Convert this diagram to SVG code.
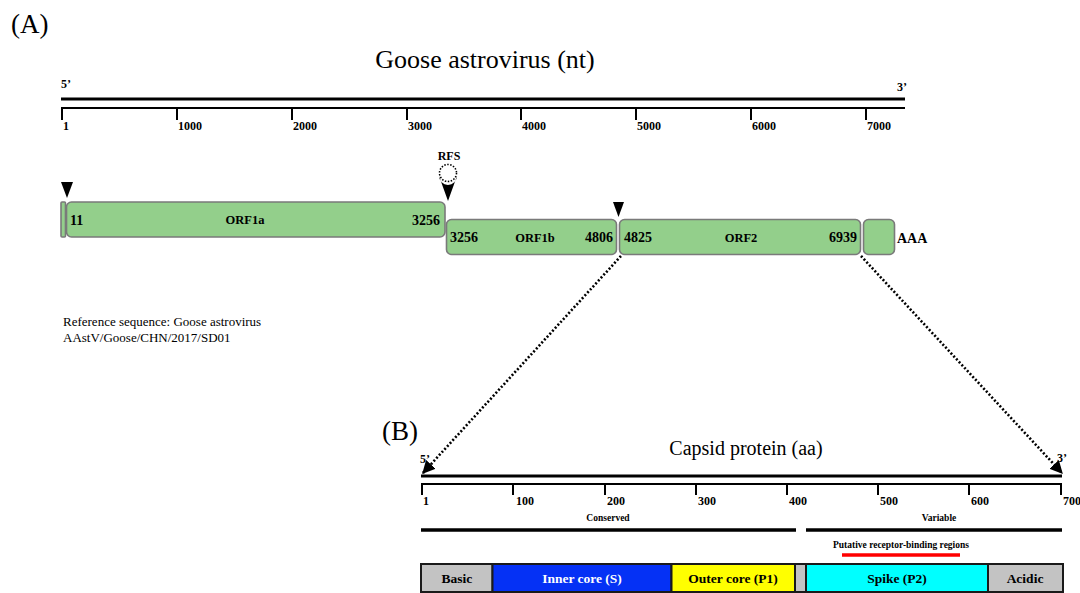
<svg xmlns="http://www.w3.org/2000/svg" width="1080" height="593" viewBox="0 0 1080 593">
<defs>
<style>
.serif{font-family:"Liberation Serif","Times New Roman",serif;fill:#000}
.b{font-weight:bold}
.tick{font-family:"Liberation Serif",serif;font-weight:bold;font-size:12px}
.orf{fill:#93cf8b;stroke:#7a7a7a;stroke-width:1.6}
.axis{stroke:#000;fill:none}
.seg{stroke:#1a1a1a;stroke-width:2}
.lbl{font-family:"Liberation Serif",serif;font-weight:bold;font-size:13.5px;text-anchor:middle}
.dots{stroke:#000;stroke-width:2.6;stroke-dasharray:2 2;fill:none}
</style>
<marker id="ah" viewBox="0 0 10 10" refX="9" refY="5" markerWidth="5" markerHeight="5" orient="auto" markerUnits="strokeWidth">
<path d="M0,0 L10,5 L0,10 Z" fill="#000"/>
</marker>
</defs>
<rect width="1080" height="593" fill="#fff"/>

<g id="panelA-label"><text class="serif" x="11" y="33" font-size="27">(A)</text></g>
<g id="titleA"><text class="serif" x="485" y="68" font-size="26" text-anchor="middle">Goose astrovirus (nt)</text></g>

<g id="axisA">
<text class="tick" x="61" y="88">5’</text>
<text class="tick" x="897" y="91">3’</text>
<line class="axis" x1="61" y1="99" x2="905" y2="99" stroke-width="3"/>
<line class="axis" x1="61" y1="108" x2="905" y2="108" stroke-width="2"/>
<g stroke="#000" stroke-width="2">
<line x1="62" y1="108" x2="62" y2="120"/>
<line x1="177" y1="108" x2="177" y2="120"/>
<line x1="292" y1="108" x2="292" y2="120"/>
<line x1="407" y1="108" x2="407" y2="120"/>
<line x1="521" y1="108" x2="521" y2="120"/>
<line x1="636" y1="108" x2="636" y2="120"/>
<line x1="751" y1="108" x2="751" y2="120"/>
<line x1="866" y1="108" x2="866" y2="120"/>
</g>
<text class="tick" x="63" y="130">1</text>
<text class="tick" x="178" y="130">1000</text>
<text class="tick" x="293" y="130">2000</text>
<text class="tick" x="408" y="130">3000</text>
<text class="tick" x="522" y="130">4000</text>
<text class="tick" x="637" y="130">5000</text>
<text class="tick" x="752" y="130">6000</text>
<text class="tick" x="867" y="130">7000</text>
</g>

<g id="marker-start"><path d="M61,182 L73,182 L67,198 Z" fill="#000"/></g>
<g id="rfs">
<text class="serif b" x="449" y="160" font-size="12" text-anchor="middle">RFS</text>
<circle cx="448" cy="173" r="8.5" fill="#fff" stroke="#000" stroke-width="1.6" stroke-dasharray="1.5 1.5"/>
<path d="M439,176 A9,9 0 0 0 457,176 L448,201 Z" fill="#000"/>
</g>
<g id="marker-orf2"><path d="M613,202 L624,202 L618.5,217 Z" fill="#000"/></g>

<g id="orf0"><rect class="orf" x="61" y="202" width="4.5" height="35" rx="1"/></g>
<g id="orf1a">
<rect class="orf" x="66.5" y="202" width="378.5" height="35" rx="5"/>
<text class="serif b" x="70" y="225" font-size="14">11</text>
<text class="serif b" x="245" y="224" font-size="12.5" text-anchor="middle">ORF1a</text>
<text class="serif b" x="440" y="225" font-size="14" text-anchor="end">3256</text>
</g>
<g id="orf1b">
<rect class="orf" x="446.5" y="219.5" width="170" height="35" rx="5"/>
<text class="serif b" x="450" y="242" font-size="14">3256</text>
<text class="serif b" x="535" y="242" font-size="12.5" text-anchor="middle">ORF1b</text>
<text class="serif b" x="613" y="242" font-size="14" text-anchor="end">4806</text>
</g>
<g id="orf2">
<rect class="orf" x="619.5" y="219.5" width="241" height="35" rx="5"/>
<text class="serif b" x="624" y="242" font-size="14">4825</text>
<text class="serif b" x="741" y="242" font-size="12.5" text-anchor="middle">ORF2</text>
<text class="serif b" x="857" y="242" font-size="14" text-anchor="end">6939</text>
</g>
<g id="polyA">
<rect class="orf" x="863.5" y="219.5" width="31" height="35" rx="5"/>
<text class="serif b" x="897" y="243" font-size="14">AAA</text>
</g>

<g id="reference">
<text class="serif" x="63" y="326" font-size="13">Reference sequence: Goose astrovirus</text>
<text class="serif" x="63" y="342" font-size="13">AAstV/Goose/CHN/2017/SD01</text>
</g>

<g id="connectors">
<line class="dots" x1="621" y1="256" x2="423" y2="473" marker-end="url(#ah)"/>
<line class="dots" x1="861" y1="256" x2="1062" y2="473" marker-end="url(#ah)"/>
</g>

<g id="panelB-label"><text class="serif" x="382" y="440" font-size="27">(B)</text></g>
<g id="titleB"><text class="serif" x="746" y="455" font-size="20" text-anchor="middle">Capsid protein (aa)</text></g>

<g id="axisB">
<text class="tick" x="420" y="463">5’</text>
<text class="tick" x="1057" y="462">3’</text>
<line class="axis" x1="421" y1="476" x2="1062" y2="476" stroke-width="3"/>
<line class="axis" x1="421" y1="484" x2="1062" y2="484" stroke-width="2"/>
<g stroke="#000" stroke-width="2">
<line x1="422" y1="484" x2="422" y2="495"/>
<line x1="513" y1="484" x2="513" y2="495"/>
<line x1="605" y1="484" x2="605" y2="495"/>
<line x1="696" y1="484" x2="696" y2="495"/>
<line x1="787" y1="484" x2="787" y2="495"/>
<line x1="878" y1="484" x2="878" y2="495"/>
<line x1="969" y1="484" x2="969" y2="495"/>
<line x1="1061" y1="484" x2="1061" y2="495"/>
</g>
<text class="tick" x="423" y="505">1</text>
<text class="tick" x="516" y="505">100</text>
<text class="tick" x="607" y="505">200</text>
<text class="tick" x="698" y="505">300</text>
<text class="tick" x="789" y="505">400</text>
<text class="tick" x="880" y="505">500</text>
<text class="tick" x="971" y="505">600</text>
<text class="tick" x="1063" y="505">700</text>
</g>

<g id="regions">
<text class="serif b" x="608" y="521" font-size="9.5" text-anchor="middle">Conserved</text>
<line x1="421" y1="530" x2="796" y2="530" stroke="#000" stroke-width="3.5"/>
<text class="serif b" x="939" y="521" font-size="9.5" text-anchor="middle">Variable</text>
<line x1="806" y1="530" x2="1062" y2="530" stroke="#000" stroke-width="3.5"/>
<text class="serif b" x="901" y="548" font-size="9.5" text-anchor="middle">Putative receptor-binding regions</text>
<line x1="842" y1="555" x2="960" y2="555" stroke="#ff0000" stroke-width="3.5"/>
</g>

<g id="domains">
<g id="basic"><rect class="seg" x="421" y="564" width="71.5" height="28" fill="#c3c3c3"/><text class="lbl" x="457" y="583">Basic</text></g>
<g id="inner"><rect class="seg" x="492.5" y="564" width="179" height="28" fill="#0531f5"/><text class="lbl" x="582" y="583" fill="#fff">Inner core (S)</text></g>
<g id="outer"><rect class="seg" x="671.5" y="564" width="123.5" height="28" fill="#ffff00"/><text class="lbl" x="733" y="583">Outer core (P1)</text></g>
<g id="linker"><rect class="seg" x="795" y="564" width="11" height="28" fill="#c3c3c3"/></g>
<g id="spike"><rect class="seg" x="806" y="564" width="182" height="28" fill="#00ffff"/><text class="lbl" x="897" y="583">Spike (P2)</text></g>
<g id="acidic"><rect class="seg" x="988" y="564" width="75" height="28" fill="#c3c3c3"/><text class="lbl" x="1025" y="583">Acidic</text></g>
</g>
</svg>
